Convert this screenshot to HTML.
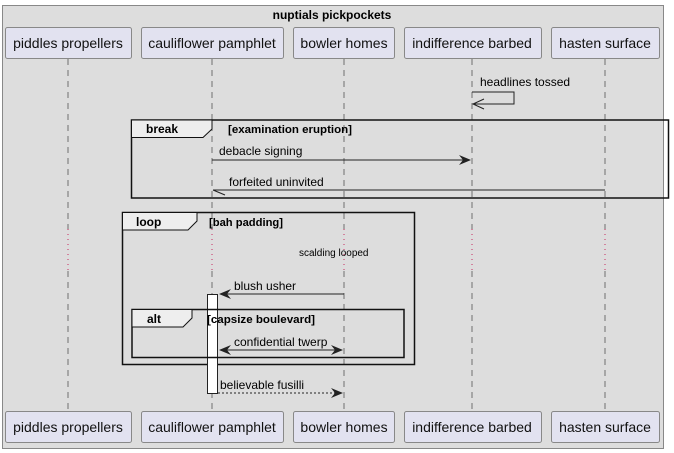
<!DOCTYPE html>
<html><head><meta charset="utf-8"><style>
html,body{margin:0;padding:0;background:#fff;}
svg{display:block;font-family:"Liberation Sans",sans-serif;}
</style></head><body>
<svg width="674" height="453" viewBox="0 0 674 453" xmlns="http://www.w3.org/2000/svg">
<rect x="2.5" y="5.5" width="661" height="443" fill="#dddddd" stroke="#888" stroke-width="1"/>
<text x="332" y="19" text-anchor="middle" font-size="12" font-weight="bold">nuptials pickpockets</text>
<g stroke="#555" stroke-width="0.8" stroke-dasharray="6,5">
<line x1="68" y1="59" x2="68" y2="229"/><line x1="68" y1="271" x2="68" y2="411"/>
<line x1="212" y1="59" x2="212" y2="229"/><line x1="212" y1="271" x2="212" y2="411"/>
<line x1="344" y1="59" x2="344" y2="229"/><line x1="344" y1="271" x2="344" y2="411"/>
<line x1="472" y1="59" x2="472" y2="229"/><line x1="472" y1="271" x2="472" y2="411"/>
<line x1="605" y1="59" x2="605" y2="229"/><line x1="605" y1="271" x2="605" y2="411"/>
</g>
<g stroke="#c00040" stroke-width="0.8" stroke-dasharray="1,4">
<line x1="68" y1="229" x2="68" y2="271"/><line x1="212" y1="229" x2="212" y2="271"/>
<line x1="344" y1="229" x2="344" y2="271"/><line x1="472" y1="229" x2="472" y2="271"/>
<line x1="605" y1="229" x2="605" y2="271"/>
</g>
<g fill="#e2e2f0" stroke="#888" stroke-width="1">
<rect x="5.5" y="27.5" width="126" height="31" rx="2"/>
<rect x="141.5" y="27.5" width="142" height="31" rx="2"/>
<rect x="293.5" y="27.5" width="101" height="31" rx="2"/>
<rect x="404.5" y="27.5" width="137" height="31" rx="2"/>
<rect x="551.5" y="27.5" width="108" height="31" rx="2"/>
<rect x="5.5" y="411.5" width="126" height="31" rx="2"/>
<rect x="141.5" y="411.5" width="142" height="31" rx="2"/>
<rect x="293.5" y="411.5" width="101" height="31" rx="2"/>
<rect x="404.5" y="411.5" width="137" height="31" rx="2"/>
<rect x="551.5" y="411.5" width="108" height="31" rx="2"/>
</g>
<g font-size="14" text-anchor="middle" fill="#111">
<text x="68" y="48">piddles propellers</text>
<text x="212" y="48">cauliflower pamphlet</text>
<text x="344" y="48">bowler homes</text>
<text x="472" y="48">indifference barbed</text>
<text x="605" y="48">hasten surface</text>
<text x="68" y="432">piddles propellers</text>
<text x="212" y="432">cauliflower pamphlet</text>
<text x="344" y="432">bowler homes</text>
<text x="472" y="432">indifference barbed</text>
<text x="605" y="432">hasten surface</text>
</g>
<polyline points="472,92 514,92 514,104 473,104" fill="none" stroke="#222" stroke-width="1"/>
<polyline points="484,99 473,104 484,109" fill="none" stroke="#222" stroke-width="1"/>
<text x="480" y="86" font-size="12">headlines tossed</text>
<rect x="131.5" y="120" width="537" height="78" fill="none" stroke="#111" stroke-width="1.5"/>
<path d="M131.5 120 L212 120 L212 129 L203 137.5 L131.5 137.5 Z" fill="#eee" stroke="#111" stroke-width="1"/>
<text x="146" y="133" font-size="12" font-weight="bold">break</text>
<text x="228" y="133" font-size="11" font-weight="bold" textLength="124" lengthAdjust="spacingAndGlyphs">[examination eruption]</text>
<line x1="212" y1="160" x2="470" y2="160" stroke="#222" stroke-width="1"/>
<path d="M471 160 L459 155 L463 160 L459 165 Z" fill="#222"/>
<text x="219" y="155" font-size="12">debacle signing</text>
<line x1="213" y1="190" x2="605" y2="190" stroke="#222" stroke-width="1"/>
<line x1="213" y1="190" x2="225" y2="195" stroke="#222" stroke-width="1"/>
<text x="229" y="186" font-size="12">forfeited uninvited</text>
<rect x="122.5" y="212.5" width="292" height="152" fill="none" stroke="#111" stroke-width="1.5"/>
<path d="M122.5 212.5 L197 212.5 L197 221 L188 230 L122.5 230 Z" fill="#eee" stroke="#111" stroke-width="1"/>
<text x="136" y="226" font-size="12" font-weight="bold">loop</text>
<text x="209" y="226" font-size="11" font-weight="bold" textLength="74" lengthAdjust="spacingAndGlyphs">[bah padding]</text>
<text x="299" y="256" font-size="10">scalding looped</text>
<rect x="207.5" y="294.5" width="10" height="99" fill="#fff" stroke="#222" stroke-width="1"/>
<line x1="220" y1="294" x2="344" y2="294" stroke="#222" stroke-width="1"/>
<path d="M219 294 L231 289 L227 294 L231 299 Z" fill="#222"/>
<text x="234" y="290" font-size="12">blush usher</text>
<rect x="132" y="309.5" width="272" height="48" fill="none" stroke="#111" stroke-width="1.5"/>
<path d="M132 309.5 L192 309.5 L192 318 L183 327 L132 327 Z" fill="#eee" stroke="#111" stroke-width="1"/>
<text x="147" y="323" font-size="12" font-weight="bold">alt</text>
<text x="207" y="323" font-size="11" font-weight="bold" textLength="108" lengthAdjust="spacingAndGlyphs">[capsize boulevard]</text>
<line x1="220" y1="350" x2="342" y2="350" stroke="#222" stroke-width="1"/>
<path d="M219 350 L231 345 L227 350 L231 355 Z" fill="#222"/>
<path d="M343 350 L331 345 L335 350 L331 355 Z" fill="#222"/>
<text x="234" y="346" font-size="12">confidential twerp</text>
<line x1="218" y1="393" x2="342" y2="393" stroke="#222" stroke-width="1" stroke-dasharray="2,2"/>
<path d="M343 393 L331 388 L335 393 L331 398 Z" fill="#222"/>
<text x="220" y="389" font-size="12">believable fusilli</text>
</svg>
</body></html>
